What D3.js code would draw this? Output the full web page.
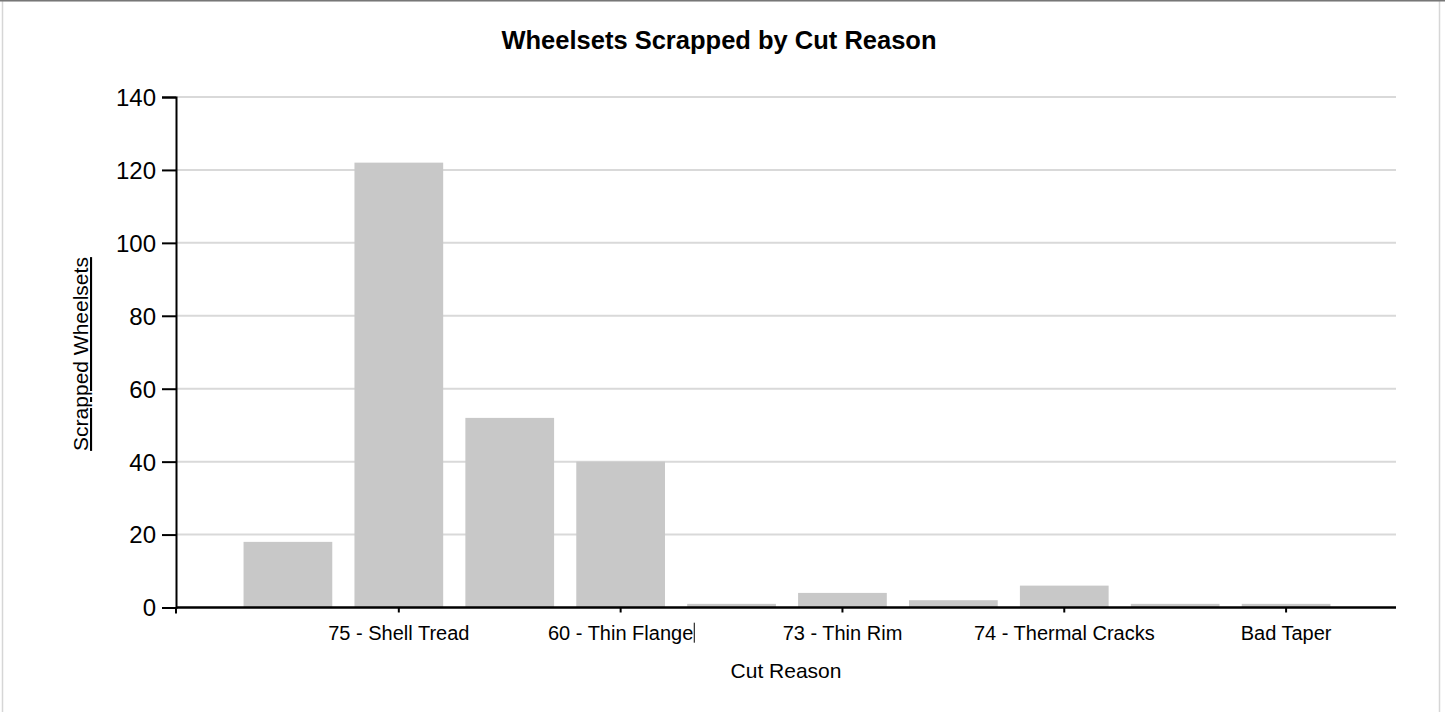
<!DOCTYPE html>
<html>
<head>
<meta charset="utf-8">
<script src="https://cdn.jsdelivr.net/npm/d3@7"></script>
<style>
  html, body { margin: 0; padding: 0; background: #fff; }
  svg { display: block; font-family: "Liberation Sans", Arial, sans-serif; }
</style>
</head>
<body>
<svg id="chart" width="1445" height="712"></svg>
<script>
// ---- data ----
const categories = [
  "(unlabeled 1)", "75 - Shell Tread",
  "(unlabeled 3)", "60 - Thin Flange",
  "(unlabeled 5)", "73 - Thin Rim",
  "(unlabeled 7)", "74 - Thermal Cracks",
  "(unlabeled 9)", "Bad Taper"
];
const values = [18, 122, 52, 40, 1, 4, 2, 6, 1, 1];
const shownLabels = ["75 - Shell Tread", "60 - Thin Flange", "73 - Thin Rim", "74 - Thermal Cracks", "Bad Taper"];
const yTicks = [0, 20, 40, 60, 80, 100, 120, 140];
const titleText = "Wheelsets Scrapped by Cut Reason";
const xTitleText = "Cut Reason";
const yTitleText = "Scrapped Wheelsets";

// ---- layout ----
const svg = d3.select("#chart");
const plotLeft = 176, plotRight = 1396, plotTop = 97, plotBottom = 607.5;

// frame
svg.append("rect").attr("x", 2.5).attr("y", 0.5).attr("width", 1437).attr("height", 720)
  .attr("fill", "none").attr("stroke", "#d6d6d6").attr("stroke-width", 1.5);
svg.append("line").attr("x1", 0).attr("x2", 1445).attr("y1", 0.75).attr("y2", 0.75)
  .attr("stroke", "#777").attr("stroke-width", 1.5);

const x = d3.scaleBand().domain(categories).range([plotLeft + 1, plotRight + 1])
  .paddingInner(0.2).paddingOuter(0.6);
const y = d3.scaleLinear().domain([0, 140]).range([plotBottom, plotTop]);

// gridlines
svg.append("g").selectAll("line").data(yTicks.filter(d => d > 0)).join("line")
  .attr("x1", plotLeft).attr("x2", plotRight)
  .attr("y1", d => y(d)).attr("y2", d => y(d))
  .attr("stroke", "#d9d9d9").attr("stroke-width", 2);

// bars
svg.append("g").selectAll("rect").data(categories).join("rect")
  .attr("x", d => x(d))
  .attr("width", x.bandwidth())
  .attr("y", (d, i) => y(values[i]))
  .attr("height", (d, i) => y(0) - y(values[i]))
  .attr("fill", "#c8c8c8");

// y axis
const yAxis = d3.axisLeft(y).tickValues(yTicks).tickSize(14).tickSizeOuter(14).tickPadding(6);
const gy = svg.append("g").attr("transform", `translate(${plotLeft},0)`).call(yAxis);
gy.select(".domain").attr("stroke", "#000").attr("stroke-width", 2);
gy.selectAll(".tick line").attr("stroke", "#000").attr("stroke-width", 2);
gy.selectAll(".tick text").attr("font-size", 24).attr("font-family", "Liberation Sans, Arial, sans-serif")
  .attr("fill", "#000").attr("dy", "0.35em");

// x axis
const xAxis = d3.axisBottom(x).tickValues(shownLabels).tickSize(5).tickSizeOuter(0).tickPadding(12);
const gx = svg.append("g").attr("transform", `translate(0,${plotBottom})`).call(xAxis);
gx.select(".domain").attr("stroke", "#000").attr("stroke-width", 2.5)
  .attr("d", `M${plotLeft},0H${plotRight}`);
gx.selectAll(".tick line").attr("stroke", "#000").attr("stroke-width", 2);
gx.selectAll(".tick text").attr("font-size", 20).attr("font-family", "Liberation Sans, Arial, sans-serif")
  .attr("fill", "#000").attr("y", 18).attr("dy", "0.71em");
// tick below the origin
gx.append("line").attr("x1", plotLeft).attr("x2", plotLeft).attr("y1", 0).attr("y2", 6)
  .attr("stroke", "#000").attr("stroke-width", 2);

// small caret mark after the "60 - Thin Flange" label (as in the reference)
gx.selectAll(".tick").filter(d => d === "60 - Thin Flange").each(function () {
  const t = d3.select(this).select("text").node().getBBox();
  d3.select(this).append("line")
    .attr("x1", t.x + t.width + 1).attr("x2", t.x + t.width + 1)
    .attr("y1", t.y + 1).attr("y2", t.y + t.height - 1)
    .attr("stroke", "#000").attr("stroke-width", 1);
});

// title
svg.append("text").attr("x", 719).attr("y", 49).attr("text-anchor", "middle")
  .attr("font-size", 25.5).attr("font-weight", "bold").attr("fill", "#000").text(titleText);

// x title
svg.append("text").attr("x", 786).attr("y", 678).attr("text-anchor", "middle")
  .attr("font-size", 21).attr("fill", "#000").text(xTitleText);

// y title (underlined)
svg.append("text").attr("transform", "translate(88,354) rotate(-90)")
  .attr("text-anchor", "middle").attr("font-size", 21).attr("fill", "#000")
  .attr("text-decoration", "underline").text(yTitleText);
</script>
</body>
</html>
